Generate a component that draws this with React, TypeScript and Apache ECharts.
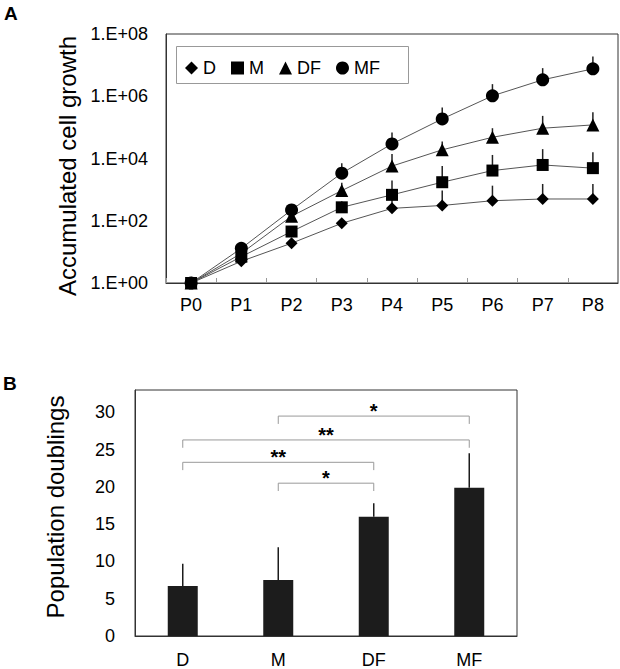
import React, { useEffect, useRef } from 'react';
import * as echarts from 'echarts';

// ---- Panel A data: accumulated cell growth (mean and upper end of error bar)
const passages = ['P0', 'P1', 'P2', 'P3', 'P4', 'P5', 'P6', 'P7', 'P8'];
const seriesNames = ['D', 'M', 'DF', 'MF'];
const dValues = [1, 5, 19, 83, 250, 310, 440, 500, 500];
const dUpper = [1, 6, 24, 110, 630, 930, 1340, 1520, 1520];
const mValues = [1, 7, 45, 270, 680, 1730, 4100, 6200, 4900];
const mUpper = [1, 8, 60, 420, 1950, 5750, 13000, 20000, 16000];
const dfValues = [1, 9, 140, 930, 5700, 19000, 48000, 94000, 120000];
const dfUpper = [1, 10, 180, 1670, 14000, 35000, 94000, 234000, 308000];
const mfValues = [1, 13, 222, 3380, 29500, 187000, 1030000, 3370000, 7600000];
const mfUpper = [1, 15, 300, 7060, 68000, 436000, 2450000, 8000000, 19000000];
const yTickExponents = [0, 2, 4, 6, 8];

// ---- Panel B data: population doublings
const groups = ['D', 'M', 'DF', 'MF'];
const pdMeans = [6.7, 7.5, 16.0, 19.9];
const pdErrors = [3.0, 4.4, 1.8, 4.6];
const bracketFrom = [1, 0, 0, 1];
const bracketTo = [3, 3, 2, 2];
const bracketLevels = [29.5, 26.3, 23.3, 20.5];
const bracketLabels = ['*', '**', '**', '*'];

const FONT = 'Liberation Sans, Arial, sans-serif';

export default function App() {
  const ref = useRef<HTMLDivElement>(null);

  useEffect(() => {
    if (!ref.current) return;
    const chart = echarts.init(ref.current, null, { renderer: 'svg' });

    const valuesList = [dValues, mValues, dfValues, mfValues];
    const upperList = [dUpper, mUpper, dfUpper, mfUpper];
    const symbols = ['diamond', 'rect', 'triangle', 'circle'];
    const symbolSizes = [12, 12, 13, 13];

    const errA: number[][] = [];
    valuesList.forEach((vals, s) => {
      vals.forEach((v, i) => {
        if (upperList[s][i] > v) errA.push([i, v, upperList[s][i]]);
      });
    });

    const errB = pdMeans.map((m, i) => [i, m, m + pdErrors[i]]);
    const brackets = bracketFrom.map((f, i) => [f, bracketTo[i], bracketLevels[i], i]);

    const lineSeries = seriesNames.map((name, s) => ({
      name,
      type: 'line',
      xAxisIndex: 0,
      yAxisIndex: 0,
      data: valuesList[s],
      symbol: symbols[s],
      symbolSize: symbolSizes[s],
      showAllSymbol: true,
      itemStyle: { color: '#000' },
      lineStyle: { color: '#555', width: 1 },
      z: 3,
    }));

    const option: any = {
      animation: false,
      backgroundColor: '#fff',
      textStyle: { fontFamily: FONT },
      grid: [
        { left: 166, top: 34, width: 452, height: 249, show: true, borderColor: '#333', borderWidth: 1 },
        { left: 135, top: 390, width: 382, height: 246, show: true, borderColor: '#333', borderWidth: 1 },
      ],
      legend: {
        data: seriesNames.map((n, s) => ({ name: n, icon: symbols[s] })),
        left: 185,
        top: 59,
        padding: 0,
        itemWidth: 13,
        itemHeight: 13,
        itemGap: 15,
        textStyle: { fontSize: 18, color: '#000', fontFamily: FONT },
        itemStyle: { color: '#000' },
        selectedMode: false,
      },
      xAxis: [
        {
          type: 'category',
          gridIndex: 0,
          data: passages,
          boundaryGap: true,
          axisLine: { lineStyle: { color: '#333' } },
          axisTick: { show: true, inside: true, length: 5, lineStyle: { color: '#999' } },
          axisLabel: { fontSize: 18, color: '#000', margin: 13, fontFamily: FONT },
        },
        {
          type: 'category',
          gridIndex: 1,
          data: groups,
          boundaryGap: true,
          axisLine: { lineStyle: { color: '#333' } },
          axisTick: { show: false },
          axisLabel: { fontSize: 18, color: '#000', margin: 15, fontFamily: FONT },
        },
      ],
      yAxis: [
        {
          type: 'log',
          gridIndex: 0,
          logBase: 10,
          min: 1,
          max: 1e8,
          axisLine: { show: true, lineStyle: { color: '#333' } },
          axisTick: { show: false },
          splitLine: { show: false },
          axisLabel: {
            fontSize: 18,
            color: '#000',
            margin: 18,
            fontFamily: FONT,
            formatter: (v: number) => {
              const e = Math.round(Math.log10(v));
              return yTickExponents.includes(e) ? `1.E+${String(e).padStart(2, '0')}` : '';
            },
          },
        },
        {
          type: 'value',
          gridIndex: 1,
          min: 0,
          max: 33,
          interval: 5,
          axisLine: { show: true, lineStyle: { color: '#333' } },
          axisTick: { show: false },
          splitLine: { show: false },
          axisLabel: {
            fontSize: 18,
            color: '#000',
            margin: 20,
            fontFamily: FONT,
            formatter: (v: number) => (v % 5 === 0 ? String(v) : ''),
          },
        },
      ],
      series: [
        {
          type: 'custom',
          xAxisIndex: 0,
          yAxisIndex: 0,
          data: errA,
          encode: { x: 0, y: [1, 2] },
          z: 2,
          renderItem: (params: any, api: any) => {
            const x = api.value(0);
            const lo = api.coord([x, api.value(1)]);
            const hi = api.coord([x, api.value(2)]);
            return {
              type: 'line',
              shape: { x1: lo[0], y1: lo[1], x2: hi[0], y2: hi[1] },
              style: { stroke: '#222', lineWidth: 1.5 },
            };
          },
        },
        ...lineSeries,
        {
          type: 'bar',
          xAxisIndex: 1,
          yAxisIndex: 1,
          data: pdMeans,
          barWidth: 30,
          itemStyle: { color: '#1c1c1c' },
          z: 2,
        },
        {
          type: 'custom',
          xAxisIndex: 1,
          yAxisIndex: 1,
          data: errB,
          encode: { x: 0, y: [1, 2] },
          z: 3,
          renderItem: (params: any, api: any) => {
            const x = api.value(0);
            const lo = api.coord([x, api.value(1)]);
            const hi = api.coord([x, api.value(2)]);
            return {
              type: 'line',
              shape: { x1: lo[0], y1: lo[1], x2: hi[0], y2: hi[1] },
              style: { stroke: '#1c1c1c', lineWidth: 1.5 },
            };
          },
        },
        {
          type: 'custom',
          xAxisIndex: 1,
          yAxisIndex: 1,
          data: brackets,
          encode: { x: [0, 1], y: 2 },
          clip: false,
          z: 4,
          renderItem: (params: any, api: any) => {
            const f = api.value(0);
            const t = api.value(1);
            const lvl = api.value(2);
            const idx = api.value(3);
            const drop = 1.05;
            const p1 = api.coord([f, lvl - drop]);
            const p2 = api.coord([f, lvl]);
            const p3 = api.coord([t, lvl]);
            const p4 = api.coord([t, lvl - drop]);
            return {
              type: 'group',
              children: [
                {
                  type: 'polyline',
                  shape: { points: [p1, p2, p3, p4] },
                  style: { stroke: '#999', lineWidth: 1, fill: 'none' },
                },
                {
                  type: 'text',
                  x: (p2[0] + p3[0]) / 2,
                  y: p2[1] - 5,
                  style: {
                    text: bracketLabels[idx],
                    fontSize: 20,
                    fontWeight: 'bold',
                    fontFamily: FONT,
                    fill: '#000',
                    align: 'center',
                    verticalAlign: 'middle',
                  },
                },
              ],
            };
          },
        },
      ],
      graphic: [
        {
          type: 'text',
          x: 4,
          y: 13.5,
          style: { text: 'A', fontSize: 19, fontWeight: 'bold', fontFamily: FONT, fill: '#000', verticalAlign: 'middle' },
        },
        {
          type: 'text',
          x: 3,
          y: 383,
          style: { text: 'B', fontSize: 19, fontWeight: 'bold', fontFamily: FONT, fill: '#000', verticalAlign: 'middle' },
        },
        {
          type: 'rect',
          shape: { x: 176.5, y: 46.5, width: 232, height: 37 },
          style: { fill: 'none', stroke: '#999', lineWidth: 1 },
          z: 1,
        },
        {
          type: 'text',
          x: 67,
          y: 166,
          rotation: Math.PI / 2,
          style: { text: 'Accumulated cell growth', fontSize: 24, fontFamily: FONT, fill: '#000', align: 'center', verticalAlign: 'middle' },
        },
        {
          type: 'text',
          x: 55,
          y: 507,
          rotation: Math.PI / 2,
          style: { text: 'Population doublings', fontSize: 24, fontFamily: FONT, fill: '#000', align: 'center', verticalAlign: 'middle' },
        },
      ],
    };

    chart.setOption(option);
    return () => chart.dispose();
  }, []);

  return <div ref={ref} style={{ position: 'absolute', left: 0, top: 0, width: 620, height: 669 }} />;
}
